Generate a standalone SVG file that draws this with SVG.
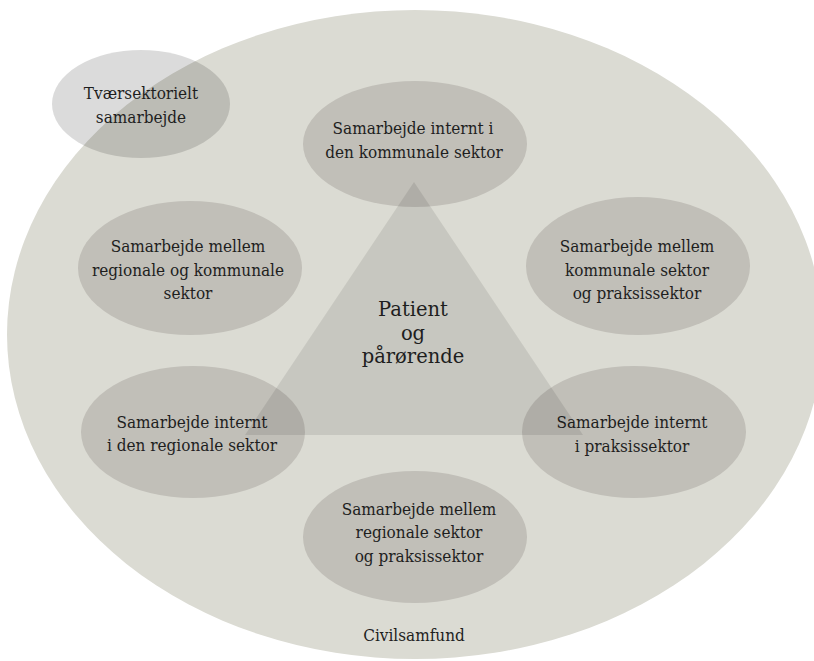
<svg xmlns="http://www.w3.org/2000/svg" width="814" height="661" viewBox="0 0 814 661">
<style>
.bg{fill:#dbdbd3}
.node{fill:#c1bfb8}
.tv{fill:#000;fill-opacity:0.14}
.tri{fill:#000;fill-opacity:0.09}
.lbl{font-family:"DejaVu Serif Condensed","DejaVu Serif",serif;font-stretch:condensed;font-size:17px;fill:#1e1e1e;text-anchor:middle}
.ctr{font-family:"DejaVu Serif","Liberation Serif",serif;font-size:19.5px;fill:#1e1e1e;text-anchor:middle}
</style>
<rect width="814" height="661" fill="#ffffff"/>
<g id="civilsamfund">
<ellipse class="bg" cx="415" cy="334.5" rx="408" ry="324.5"/>
<text class="lbl" x="414" y="641">Civilsamfund</text>
</g>
<g id="tvaersektorielt">
<ellipse class="tv" cx="141" cy="104" rx="89" ry="54"/>
<text class="lbl" x="141" y="99">Tværsektorielt</text>
<text class="lbl" x="141" y="123">samarbejde</text>
</g>
<g id="internt-kommunale">
<ellipse class="node" cx="415" cy="144" rx="112" ry="63"/>
<text class="lbl" x="413" y="134">Samarbejde internt i</text>
<text class="lbl" x="414" y="158">den kommunale sektor</text>
</g>
<g id="mellem-regionale-kommunale">
<ellipse class="node" cx="190" cy="268" rx="112" ry="67"/>
<text class="lbl" x="188" y="252">Samarbejde mellem</text>
<text class="lbl" x="188" y="276">regionale og kommunale</text>
<text class="lbl" x="188" y="299">sektor</text>
</g>
<g id="mellem-kommunale-praksis">
<ellipse class="node" cx="638" cy="266" rx="112" ry="69"/>
<text class="lbl" x="637" y="252">Samarbejde mellem</text>
<text class="lbl" x="637" y="276">kommunale sektor</text>
<text class="lbl" x="637" y="299">og praksissektor</text>
</g>
<g id="internt-regionale">
<ellipse class="node" cx="193" cy="432" rx="112" ry="66"/>
<text class="lbl" x="192" y="428">Samarbejde internt</text>
<text class="lbl" x="192" y="451">i den regionale sektor</text>
</g>
<g id="internt-praksis">
<ellipse class="node" cx="634" cy="432" rx="112" ry="66"/>
<text class="lbl" x="632" y="428">Samarbejde internt</text>
<text class="lbl" x="632" y="452">i praksissektor</text>
</g>
<g id="mellem-regionale-praksis">
<ellipse class="node" cx="415" cy="537" rx="112" ry="66"/>
<text class="lbl" x="419" y="515">Samarbejde mellem</text>
<text class="lbl" x="419" y="538">regionale sektor</text>
<text class="lbl" x="419" y="562">og praksissektor</text>
</g>
<g id="patient">
<polygon class="tri" points="414,182 245,435 583,435"/>
<text class="ctr" x="413" y="316">Patient</text>
<text class="ctr" x="413" y="340">og</text>
<text class="ctr" x="413" y="363">pårørende</text>
</g>
<g id="connectors"/>
</svg>
